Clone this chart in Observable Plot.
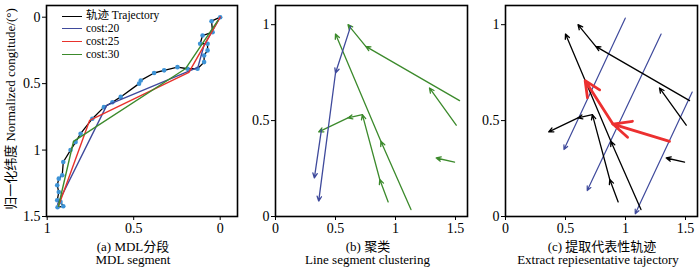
<!DOCTYPE html>
<html><head><meta charset="utf-8">
<script src="https://cdn.jsdelivr.net/npm/d3@7"></script>
<script src="https://cdn.jsdelivr.net/npm/@observablehq/plot@0.6"></script>
<style>
body{margin:0;background:#fff;}
#wrap{position:relative;width:700px;height:269px;overflow:hidden;background:#fff;font-family:"Liberation Serif","Noto Sans CJK SC",serif;color:#000;}
.p{position:absolute;top:0;}
.cap{position:absolute;font-size:13px;white-space:nowrap;transform:translate(-50%,-50%);line-height:1;}
.ytitle{position:absolute;font-size:13px;white-space:nowrap;transform:translate(-50%,-50%) rotate(-90deg);line-height:1;}
.leg{position:absolute;left:62px;font-size:11.5px;line-height:1;white-space:nowrap;}
.leg .sw{position:absolute;left:0;width:20px;height:0;border-top:1.6px solid;}
.leg .tx{position:absolute;left:24px;transform:translateY(-50%);line-height:1;}
</style>
</head><body>
<div id="wrap"></div>
<script>
// ---------- Panel (a): MDL segment ----------
const trajX = [0, 0.05, 0.044, 0.102, 0.116, 0.073, 0.073, 0.093, 0.093, 0.131, 0.189, 0.247, 0.324, 0.382, 0.459, 0.469, 0.575, 0.623, 0.672, 0.739, 0.807, 0.836, 0.865, 0.907, 0.913, 0.933, 0.942, 0.933, 0.942, 0.923, 0.907, 0.94];
const trajY = [0, 0.03, 0.113, 0.138, 0.2, 0.2, 0.25, 0.288, 0.338, 0.388, 0.388, 0.376, 0.4, 0.42, 0.476, 0.5, 0.6, 0.64, 0.677, 0.764, 0.877, 0.94, 1.0, 1.09, 1.19, 1.215, 1.265, 1.316, 1.378, 1.39, 1.423, 1.43];
const cost20X = [0, 0.094, 0.129, 0.656, 0.94];
const cost20Y = [0, 0.213, 0.378, 0.664, 1.408];
const cost25X = [0, 0.181, 0.755, 0.935];
const cost25Y = [0, 0.416, 0.777, 1.423];
const cost30X = [0.014, 0.199, 0.848, 0.935];
const cost30Y = [0.025, 0.386, 0.935, 1.423];
const aXTicks = [1, 0.5, 0];
const aYTicks = [0, 0.5, 1, 1.5];

// ---------- Panel (b)/(c): clustering ----------
const clusterBlue = [
  [[0.626, 0.991], [0.50, 0.748], [0.36, 0.08]],
  [[0.383, 0.453], [0.324, 0.201]]
];
const clusterGreen = [
  [[1.534, 0.604], [0.752, 0.887], [0.604, 1.0]],
  [[1.506, 0.476], [1.283, 0.67]],
  [[1.492, 0.284], [1.339, 0.305]],
  [[1.129, 0.036], [0.878, 0.392], [0.50, 0.951]],
  [[0.939, 0.076], [0.869, 0.193], [0.724, 0.531], [0.604, 0.514], [0.36, 0.441]]
];
const sweepLines = [
  [[0.998, 1.034], [0.487, 0.349]],
  [[1.297, 0.951], [0.681, 0.135]],
  [[1.556, 0.649], [1.081, 0.014]]
];
const representative = [[1.367, 0.392], [0.895, 0.482], [0.664, 0.708]];
const bcXTicks = [0, 0.5, 1, 1.5];
const bcYTicks = [0, 0.5, 1];

const legendLabels = ["轨迹 Trajectory", "cost:20", "cost:25", "cost:30"];
const colors = {traj: "#000", dot: "#3d93d6", c20: "#3f4a9c", c25: "#e8322c", c30: "#3c8a2c", red: "#ec3030"};

const zipXY = (xs, ys) => xs.map((x, i) => ({x, y: ys[i]}));
const toSegs = polys => polys.flatMap(p => p.slice(1).map((q, i) => ({x1: p[i][0], y1: p[i][1], x2: q[0], y2: q[1]})));
const fmt = d => String(d);
const font = {fontFamily: '"Liberation Serif","Noto Sans CJK SC",serif', fontSize: "14px", background: "transparent", overflow: "visible"};

const wrap = document.getElementById("wrap");
function place(el, left) { el.classList.add("p"); el.style.left = left + "px"; wrap.appendChild(el); }

// Panel a
const traj = zipXY(trajX, trajY);
const pa = Plot.plot({
  width: 240, height: 237, marginLeft: 46, marginRight: 3, marginTop: 5, marginBottom: 21,
  style: font,
  x: {domain: [1.004, -0.1], label: null},
  y: {domain: [-0.088, 1.5], reverse: true, label: null},
  marks: [
    Plot.axisX({ticks: aXTicks, tickFormat: fmt, tickSize: 4, tickPadding: 3, label: null}),
    Plot.axisY({ticks: aYTicks, tickFormat: fmt, tickSize: 4, tickPadding: 2, label: null}),
    Plot.line(traj, {x: "x", y: "y", stroke: colors.traj, strokeWidth: 1.3}),
    Plot.dot(traj, {x: "x", y: "y", r: 2.3, fill: colors.dot}),
    Plot.line(zipXY(cost20X, cost20Y), {x: "x", y: "y", stroke: colors.c20, strokeWidth: 1.4}),
    Plot.line(zipXY(cost25X, cost25Y), {x: "x", y: "y", stroke: colors.c25, strokeWidth: 1.4}),
    Plot.line(zipXY(cost30X, cost30Y), {x: "x", y: "y", stroke: colors.c30, strokeWidth: 1.4}),
    Plot.frame({stroke: "#000", strokeWidth: 1.6})
  ]
});
place(pa, 0);

function clusterPlot(marks) {
  return Plot.plot({
    width: 230, height: 237, marginLeft: 35, marginRight: 3, marginTop: 5, marginBottom: 21,
    style: font,
    x: {domain: [0, 1.6], label: null},
    y: {domain: [0, 1.1], label: null},
    marks: [
      Plot.axisX({ticks: bcXTicks, tickFormat: fmt, tickSize: 4, tickPadding: 3, label: null}),
      Plot.axisY({ticks: bcYTicks, tickFormat: fmt, tickSize: 4, tickPadding: 2, label: null}),
      ...marks,
      Plot.frame({stroke: "#000", strokeWidth: 1.6})
    ]
  });
}
const arrowOpts = (stroke, w, h) => ({x1: "x1", y1: "y1", x2: "x2", y2: "y2", stroke, strokeWidth: w, headLength: h, headAngle: 50});

const pb = clusterPlot([
  Plot.arrow(toSegs(clusterGreen), arrowOpts(colors.c30, 1.3, 6)),
  Plot.arrow(toSegs(clusterBlue), arrowOpts(colors.c20, 1.3, 6))
]);
place(pb, 240);

const pc = clusterPlot([
  Plot.arrow(toSegs(sweepLines), arrowOpts(colors.c20, 1.2, 6)),
  Plot.arrow(toSegs(clusterGreen), arrowOpts("#000", 1.3, 6)),
  Plot.arrow(toSegs([representative]), arrowOpts(colors.red, 2.8, 14))
]);
place(pc, 470);

// Legend (panel a)
const legColors = [colors.traj, colors.c20, colors.c25, colors.c30];
const legY = [16.3, 29.1, 41.9, 54.7];
legendLabels.forEach((t, i) => {
  const d = document.createElement("div");
  d.className = "leg";
  d.style.top = legY[i] + "px";
  d.innerHTML = `<div class="sw" style="border-color:${legColors[i]};top:-0.8px"></div><div class="tx">${t}</div>`;
  wrap.appendChild(d);
});

// Y-axis title
const yt = document.createElement("div");
yt.className = "ytitle";
yt.style.left = "10px"; yt.style.top = "109px";
yt.textContent = "归一化纬度 Normalized congitude/(°)";
wrap.appendChild(yt);

// Captions
const caps = [
  ["(a) MDL分段", 133, 245.5], ["MDL segment", 133, 259],
  ["(b) 聚类", 368, 245.5], ["Line segment clustering", 367.5, 259],
  ["(c) 提取代表性轨迹", 602, 245.5], ["Extract repiesentative tajectory", 598, 259]
];
caps.forEach(([t, x, y]) => {
  const d = document.createElement("div");
  d.className = "cap"; d.style.left = x + "px"; d.style.top = y + "px";
  d.textContent = t;
  wrap.appendChild(d);
});
</script>
</body></html>
